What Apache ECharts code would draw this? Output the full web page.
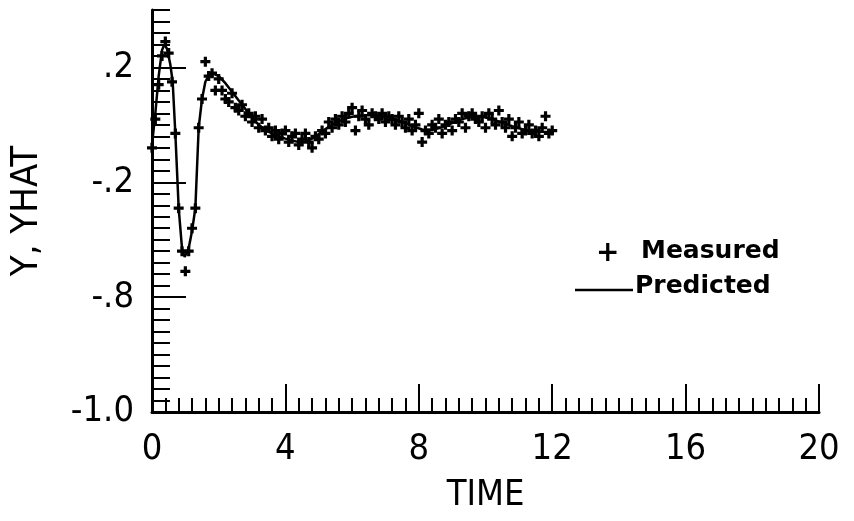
<!DOCTYPE html>
<html>
<head>
<meta charset="utf-8">
<script src="https://cdn.jsdelivr.net/npm/echarts@6/dist/echarts.min.js"></script>
<style>
  html, body { margin: 0; padding: 0; background: #fff; }
  #chart { width: 854px; height: 521px; }
</style>
</head>
<body>
<div id="chart"></div>
<script>
// measured samples (+), every 0.1 time units
const measuredTime = [
  0.0, 0.1, 0.2, 0.3, 0.4, 0.5, 0.6, 0.7, 0.8, 0.9,
  1.0, 1.1, 1.2, 1.3, 1.4, 1.5, 1.6, 1.7, 1.8, 1.9,
  2.0, 2.1, 2.2, 2.3, 2.4, 2.5, 2.6, 2.7, 2.8, 2.9,
  3.0, 3.1, 3.2, 3.3, 3.4, 3.5, 3.6, 3.7, 3.8, 3.9,
  4.0, 4.1, 4.2, 4.3, 4.4, 4.5, 4.6, 4.7, 4.8, 4.9,
  5.0, 5.1, 5.2, 5.3, 5.4, 5.5, 5.6, 5.7, 5.8, 5.9,
  6.0, 6.1, 6.2, 6.3, 6.4, 6.5, 6.6, 6.7, 6.8, 6.9,
  7.0, 7.1, 7.2, 7.3, 7.4, 7.5, 7.6, 7.7, 7.8, 7.9,
  8.0, 8.1, 8.2, 8.3, 8.4, 8.5, 8.6, 8.7, 8.8, 8.9,
  9.0, 9.1, 9.2, 9.3, 9.4, 9.5, 9.6, 9.7, 9.8, 9.9,
  10.0, 10.1, 10.2, 10.3, 10.4, 10.5, 10.6, 10.7, 10.8, 10.9,
  11.0, 11.1, 11.2, 11.3, 11.4, 11.5, 11.6, 11.7, 11.8, 11.9,
  12.0
];
const measuredValue = [
  -0.08, 0.02, 0.14, 0.24, 0.29, 0.25, 0.15, -0.03, -0.29, -0.44,
  -0.51, -0.44, -0.36, -0.29, -0.01, 0.09, 0.22, 0.17, 0.18, 0.12,
  0.16, 0.12, 0.09, 0.08, 0.11, 0.06, 0.05, 0.07, 0.03, 0.04,
  0.01, 0.03, -0.01, 0.02, -0.02, -0.01, -0.04, -0.02, -0.05, -0.03,
  -0.02, -0.06, -0.04, -0.03, -0.07, -0.05, -0.03, -0.06, -0.08, -0.04,
  -0.05, -0.02, -0.03, 0.01, -0.01, 0.02, 0.00, 0.03, 0.01, 0.04,
  0.06, -0.02, 0.03, 0.05, 0.02, 0.00, 0.04, 0.03, 0.02, 0.04,
  0.01, 0.03, 0.02, 0.00, 0.03, 0.01, -0.01, 0.02, -0.02, 0.00,
  0.04, -0.06, -0.02, -0.03, 0.00, -0.01, 0.02, -0.03, 0.00, 0.01,
  -0.02, 0.02, 0.01, 0.04, -0.01, 0.03, 0.04, 0.02, 0.01, 0.03,
  -0.01, 0.04, 0.02, 0.00, 0.05, 0.01, -0.01, 0.02, -0.04, -0.01,
  0.01, -0.03, -0.02, 0.00, -0.03, -0.02, -0.04, -0.01, 0.03, -0.03,
  -0.02
];

// predicted response (solid line)
const predictedTime = [
  0.0, 0.1, 0.2, 0.3, 0.37, 0.45, 0.55, 0.62, 0.7, 0.8,
  0.9, 0.98, 1.1, 1.2, 1.3, 1.4, 1.5, 1.6, 1.7, 1.8,
  2.0, 2.2, 2.4, 2.6, 2.8, 3.0, 3.2, 3.4, 3.6, 3.8,
  4.0, 4.2, 4.4, 4.6, 4.8, 5.0, 5.2, 5.4, 5.6, 5.8,
  6.0, 6.3, 6.6, 6.9, 7.2, 7.5, 7.8, 8.1, 8.4, 8.7,
  9.0, 9.3, 9.6, 9.9, 10.2, 10.5, 10.8, 11.1, 11.4, 11.7,
  12.0
];
const predictedValue = [
  -0.07, 0.04, 0.17, 0.26, 0.28, 0.265, 0.21, 0.15, -0.03, -0.29,
  -0.43, -0.46, -0.43, -0.37, -0.29, -0.01, 0.09, 0.15, 0.172, 0.18,
  0.17, 0.145, 0.115, 0.085, 0.055, 0.025, 0.0, -0.018, -0.03, -0.04,
  -0.048, -0.055, -0.06, -0.058, -0.048, -0.032, -0.015, 0.0, 0.012, 0.022,
  0.028, 0.033, 0.034, 0.03, 0.022, 0.01, -0.004, -0.016, -0.018, -0.008,
  0.006, 0.02, 0.028, 0.028, 0.02, 0.008, -0.005, -0.015, -0.021, -0.024,
  -0.025
];

// axis ticks and labels
const yMajorTicks = [-1.0, -0.6, -0.2, 0.2];
const yTickLabels = ['-1.0', '-.8', '-.2', '.2'];

const narrowFont = '"Liberation Sans Narrow", "DejaVu Sans Condensed", "Arial Narrow", sans-serif';
const plusPath = 'path://M3.4,0h3.2v3.4h3.4v3.2h-3.4v3.4h-3.2v-3.4h-3.4v-3.2h3.4z';

const chart = echarts.init(document.getElementById('chart'));

const axisLineStyle = { color: '#000', width: 3 };

chart.setOption({
  backgroundColor: '#fff',
  animation: false,
  grid: { left: 149, right: 35, top: 10, bottom: 109 },
  xAxis: [
    {
      type: 'value',
      position: 'bottom',
      min: 0,
      max: 20,
      interval: 4,
      axisLine: { onZero: false, lineStyle: axisLineStyle },
      axisTick: { inside: true, length: 28, lineStyle: { color: '#000', width: 2 } },
      minorTick: { show: true, splitNumber: 10, length: 14, lineStyle: { color: '#000', width: 2 } },
      splitLine: { show: false },
      axisLabel: {
        margin: 20,
        color: '#000',
        fontSize: 36,
        fontFamily: narrowFont,
        formatter: (v) => String(v)
      },
      name: 'TIME',
      nameLocation: 'middle',
      nameGap: 66,
      nameTextStyle: { color: '#000', fontSize: 36, fontFamily: narrowFont }
    }
  ],
  yAxis: [
    {
      // minor ticks every .04
      type: 'value',
      position: 'left',
      min: -1.0,
      max: 0.4,
      interval: 0.04,
      axisLine: { onZero: false, lineStyle: axisLineStyle },
      axisTick: { inside: true, length: 18, lineStyle: { color: '#000', width: 2 } },
      axisLabel: { show: false },
      splitLine: { show: false },
      name: 'Y, YHAT',
      nameLocation: 'middle',
      nameRotate: 90,
      nameGap: 106,
      nameTextStyle: { color: '#000', fontSize: 38, fontFamily: narrowFont }
    },
    {
      // major ticks with labels
      type: 'value',
      position: 'left',
      min: -1.0,
      max: 0.4,
      axisLine: { show: false, onZero: false },
      axisTick: {
        inside: true,
        length: 34,
        customValues: yMajorTicks,
        lineStyle: { color: '#000', width: 2 }
      },
      axisLabel: {
        margin: 18,
        color: '#000',
        fontSize: 36,
        fontFamily: narrowFont,
        customValues: yMajorTicks,
        formatter: (v) => {
          const i = yMajorTicks.findIndex(t => Math.abs(t - v) < 1e-6);
          return i >= 0 ? yTickLabels[i] : '';
        }
      },
      splitLine: { show: false }
    }
  ],
  graphic: [
    {
      type: 'text',
      left: 596,
      top: 240,
      style: { text: '+', fill: '#000', fontSize: 28, fontFamily: 'DejaVu Sans', fontWeight: 'bold' }
    },
    {
      type: 'text',
      left: 641,
      top: 239,
      style: { text: 'Measured', fill: '#000', fontSize: 25, fontFamily: 'DejaVu Sans', fontWeight: 'bold' }
    },
    {
      type: 'line',
      shape: { x1: 575, y1: 290, x2: 633, y2: 290 },
      style: { stroke: '#000', lineWidth: 2.5 }
    },
    {
      type: 'text',
      left: 635,
      top: 274,
      style: { text: 'Predicted', fill: '#000', fontSize: 25, fontFamily: 'DejaVu Sans', fontWeight: 'bold' }
    }
  ],
  series: [
    {
      name: 'Predicted',
      type: 'line',
      xAxisIndex: 0,
      yAxisIndex: 0,
      showSymbol: false,
      smooth: false,
      lineStyle: { color: '#000', width: 2.5 },
      data: predictedTime.map((t, i) => [t, predictedValue[i]])
    },
    {
      name: 'Measured',
      type: 'scatter',
      xAxisIndex: 0,
      yAxisIndex: 0,
      symbol: plusPath,
      symbolSize: 10,
      itemStyle: { color: '#000', opacity: 1 },
      data: measuredTime.map((t, i) => [t, measuredValue[i]])
    }
  ]
});
</script>
</body>
</html>
